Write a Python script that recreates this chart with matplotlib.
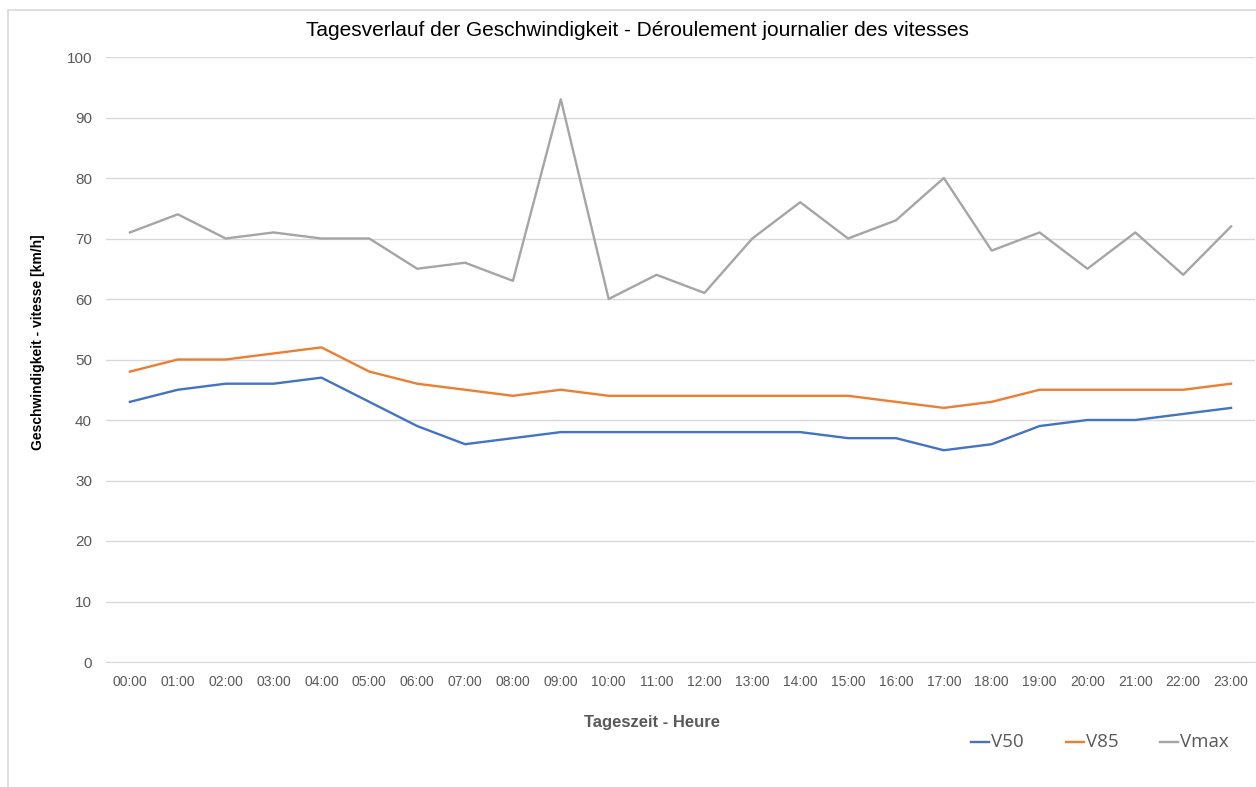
import matplotlib
matplotlib.use('Agg')
import matplotlib.pyplot as plt
from matplotlib.patches import Rectangle
from matplotlib.lines import Line2D

hours = ['%02d:00' % h for h in range(24)]
v50 = [43, 45, 46, 46, 47, 43, 39, 36, 37, 38, 38, 38, 38, 38, 38, 37, 37, 35, 36, 39, 40, 40, 41, 42]
v85 = [48, 50, 50, 51, 52, 48, 46, 45, 44, 45, 44, 44, 44, 44, 44, 44, 43, 42, 43, 45, 45, 45, 45, 46]
vmax = [71, 74, 70, 71, 70, 70, 65, 66, 63, 93, 60, 64, 61, 70, 76, 70, 73, 80, 68, 71, 65, 71, 64, 72]

series = [('V50', v50, '#4472C4'), ('V85', v85, '#ED7D31'), ('Vmax', vmax, '#A5A5A5')]

plt.rcParams['font.family'] = ['Liberation Sans', 'DejaVu Sans']
W, H = 1256, 787
fig = plt.figure(figsize=(W / 100, H / 100), dpi=100)

# chart frame (left and top edges visible)
fig.patches.append(Rectangle((8 / W, -0.05), 1.2, 1 - 10 / H + 0.05, transform=fig.transFigure,
                             fill=False, edgecolor='#D9D9D9', linewidth=1.2))

ax = fig.add_axes([106 / W, 1 - 662 / H, (1255 - 106) / W, (662 - 57) / H])
x = list(range(len(hours)))
for name, vals, col in series:
    ax.plot(x, vals, color=col, linewidth=1.7, label=name)

ax.set_xlim(-0.5, 23.5)
ax.set_ylim(0, 100)
ax.set_yticks(range(0, 101, 10))
ax.set_xticks(x)
ax.set_xticklabels(hours)
ax.grid(axis='y', color='#D9D9D9', linewidth=1.0)
ax.set_axisbelow(True)
for s in ['top', 'right', 'left']:
    ax.spines[s].set_visible(False)
ax.spines['bottom'].set_color('#D9D9D9')
ax.tick_params(axis='both', length=0, colors='#595959')
ax.tick_params(axis='y', labelsize=11, pad=10)
ax.tick_params(axis='x', labelsize=10, pad=9)

fig.text(637 / W, 1 - 31 / H, 'Tagesverlauf der Geschwindigkeit - Déroulement journalier des vitesses',
         ha='center', va='center', fontsize=15, color='black')
fig.text(38 / W, 1 - 342 / H, 'Geschwindigkeit - vitesse [km/h]', rotation=90,
         ha='center', va='center', fontsize=10, fontweight='bold', color='black')
fig.text(652 / W, 1 - 723 / H, 'Tageszeit - Heure', ha='center', va='center',
         fontsize=12, fontweight='bold', color='#595959')

# legend
leg_x = [971, 1066, 1160]
for (name, vals, col), lx in zip(series, leg_x):
    fig.add_artist(Line2D([lx / W, (lx + 18) / W], [1 - 742 / H] * 2, transform=fig.transFigure,
                          color=col, linewidth=1.7))
    fig.text((lx + 20) / W, 1 - 742 / H, name, ha='left', va='center', fontsize=13.5,
             color='#595959', family=['Open Sans', 'DejaVu Sans'])

fig.savefig('out.png', dpi=100, facecolor='white')
